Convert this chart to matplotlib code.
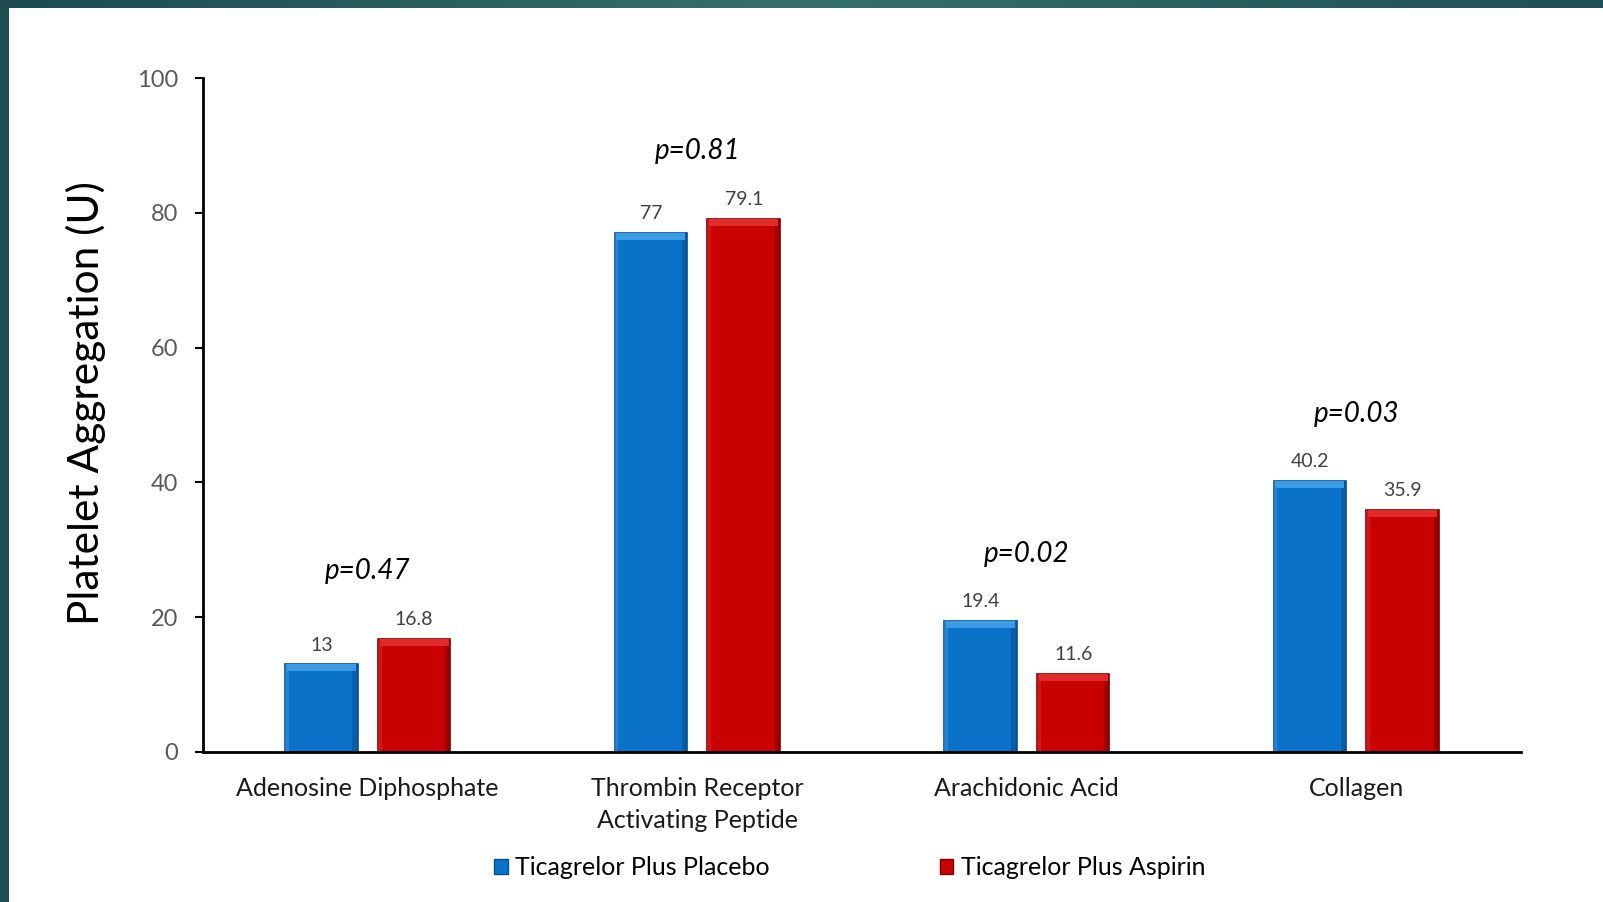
import numpy as np
import matplotlib
matplotlib.use("Agg")
import matplotlib.pyplot as plt
from matplotlib.patches import Patch
from matplotlib.colors import LinearSegmentedColormap

plt.rcParams['font.family'] = ['Lato', 'DejaVu Sans']

categories = ["Adenosine Diphosphate", "Thrombin Receptor\nActivating Peptide",
              "Arachidonic Acid", "Collagen"]
placebo = [13, 77, 19.4, 40.2]
aspirin = [16.8, 79.1, 11.6, 35.9]
p_values = ["p=0.47", "p=0.81", "p=0.02", "p=0.03"]
series_names = ["Ticagrelor Plus Placebo", "Ticagrelor Plus Aspirin"]
y_ticks = [0, 20, 40, 60, 80, 100]

blue = "#0a72c8"
blue_hi = "#3a9be6"
blue_dk = "#064e8c"
red = "#c80000"
red_hi = "#e22a2a"
red_dk = "#7a0000"

fig = plt.figure(figsize=(16.03, 9.02), dpi=100)
fig.patch.set_facecolor("white")

# decorative border bands
cm = LinearSegmentedColormap.from_list("b", ["#1d4a52", "#35716a", "#1f4f57"])
axt = fig.add_axes([0, 1 - 8 / 902, 1, 8 / 902])
axt.imshow(np.linspace(0, 1, 256)[None, :], aspect="auto", cmap=cm)
axt.axis("off")
axl = fig.add_axes([0, 0, 9 / 1603, 1 - 8 / 902])
axl.imshow(np.zeros((10, 1)), aspect="auto", cmap=LinearSegmentedColormap.from_list("l", ["#1e4c53", "#1e4c53"]))
axl.axis("off")

ax = fig.add_axes([203 / 1603, 150 / 902, (1521 - 203) / 1603, (752 - 78) / 902])
x = np.arange(len(categories))
w = 0.22
off = 0.141

def bevel_bars(xpos, vals, c, hi, dk):
    vals = np.array(vals, dtype=float)
    ax.bar(xpos, vals, w, color=c, edgecolor=dk, linewidth=1.2, zorder=2)
    # side shading
    ax.bar(xpos + w / 2 - 0.008, vals, 0.016, color=dk, alpha=0.55, linewidth=0, zorder=3)
    ax.bar(xpos - w / 2 + 0.006, vals, 0.012, color=hi, alpha=0.5, linewidth=0, zorder=3)
    # top highlight strip
    ax.bar(xpos, np.full_like(vals, 1.0), w - 0.01, bottom=vals - 1.0, color=hi, linewidth=0, zorder=4)

bevel_bars(x - off, placebo, blue, blue_hi, blue_dk)
bevel_bars(x + off, aspirin, red, red_hi, red_dk)

for i in range(len(categories)):
    ax.text(x[i] - off, placebo[i] + 1.6, f"{placebo[i]:g}", ha="center", va="bottom",
            fontsize=14, color="#404040")
    ax.text(x[i] + off, aspirin[i] + 1.6, f"{aspirin[i]:g}", ha="center", va="bottom",
            fontsize=14, color="#404040")
    top = max(placebo[i], aspirin[i])
    ax.text(x[i], top + 10.0, p_values[i], ha="center", va="center",
            fontsize=20, style="italic", color="black")

ax.set_xlim(-0.5, 3.5)
ax.set_ylim(0, 100)
ax.set_yticks(y_ticks)
ax.set_xticks(x)
ax.set_xticklabels(categories, fontsize=18, color="#1a1a1a", linespacing=1.45)
ax.tick_params(axis="x", length=0, pad=18)
ax.tick_params(axis="y", length=6, width=1.5, direction="out", labelsize=17,
               labelcolor="#595959", pad=12)
for s in ["top", "right"]:
    ax.spines[s].set_visible(False)
ax.spines["left"].set_linewidth(2)
ax.spines["bottom"].set_linewidth(2)
ax.spines["left"].set_zorder(5)
ax.spines["bottom"].set_zorder(5)

ax.set_ylabel("Platelet Aggregation (U)", fontsize=30.5, color="black", labelpad=22)
ax.yaxis.label.set_y(0.517)

handles = [Patch(facecolor=blue, edgecolor=blue_dk), Patch(facecolor=red, edgecolor=red_dk)]
fig.legend(handles, series_names, loc="center", bbox_to_anchor=(0.53, 0.038), ncol=2,
           frameon=False, fontsize=18, handlelength=0.55, handleheight=0.55,
           handletextpad=0.3, columnspacing=6.8)

fig.savefig("out.png", dpi=100)
